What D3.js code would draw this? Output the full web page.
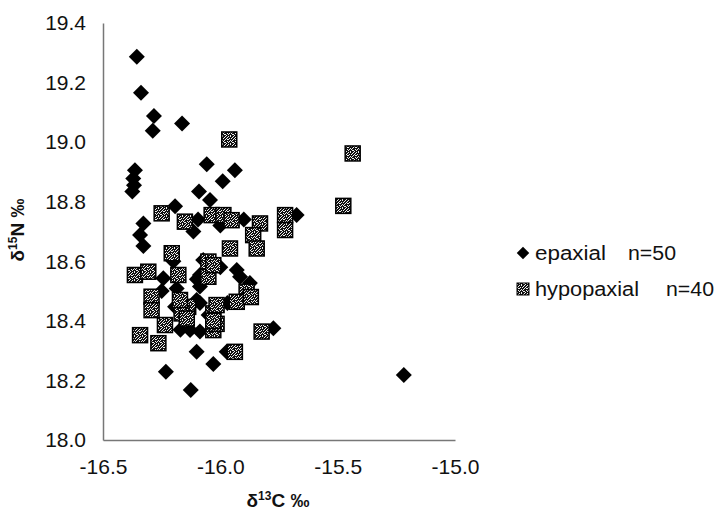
<!DOCTYPE html>
<html>
<head>
<meta charset="utf-8">
<script src="https://cdn.jsdelivr.net/npm/d3@7"></script>
<style>
  body { margin: 0; background: #fff; }
  text { font-family: "Liberation Sans", Arial, sans-serif; }
</style>
</head>
<body>
<div id="graph"></div>
<script>
let W = 718, H = 510;

// epaxial (diamonds) - d13C and d15N
let epaX = [-16.356, -16.338, -16.283, -16.288, -16.163, -16.058, -15.938, -15.99, -16.364, -16.371,
  -16.368, -16.375, -16.091, -16.044, -16.193, -16.328, -16.342, -16.328, -16.115, -15.675,
  -16.073, -15.93, -16.243, -16.186, -16.087, -16.087, -15.916, -16.193, -16.101, -16.129,
  -16.087, -16.101, -16.03, -16.232, -16.126, -15.973, -15.774, -15.218, -16.095, -16.1,
  -15.874, -16.087, -16.17, -16.0, -15.97, -16.2, -16.0, -15.9, -16.05, -16.25];
let epaY = [19.287, 19.166, 19.088, 19.038, 19.063, 18.926, 18.906, 18.869, 18.906, 18.878,
  18.855, 18.834, 18.834, 18.806, 18.785, 18.727, 18.688, 18.651, 18.70, 18.755,
  18.604, 18.571, 18.543, 18.509, 18.554, 18.515, 18.548, 18.447, 18.47, 18.369,
  18.364, 18.296, 18.255, 18.229, 18.168, 18.296, 18.375, 18.218, 18.74, 18.54,
  18.527, 18.46, 18.37, 18.58, 18.46, 18.6, 18.72, 18.74, 18.42, 18.5];

// hypopaxial (squares)
let hypX = [-15.962, -16.25, -16.151, -16.037, -15.987, -15.952, -15.831, -15.86, -15.724, -15.724,
  -15.436, -15.476, -16.207, -16.364, -16.307, -16.179, -16.051, -16.051, -15.845, -15.959,
  -16.03, -16.293, -16.293, -16.236, -16.342, -16.264, -16.137, -16.165, -16.143, -16.03,
  -16.03, -15.888, -15.93, -16.016, -16.016, -15.824, -15.938, -16.172, -16.03, -15.87];
let hypY = [19.009, 18.761, 18.733, 18.755, 18.755, 18.738, 18.727, 18.688, 18.755, 18.705,
  18.962, 18.786, 18.627, 18.554, 18.565, 18.554, 18.599, 18.548, 18.643, 18.643,
  18.587, 18.481, 18.436, 18.386, 18.352, 18.325, 18.447, 18.425, 18.408, 18.425,
  18.369, 18.498, 18.464, 18.453, 18.39, 18.364, 18.296, 18.47, 18.40, 18.48];

let xTicks = [-16.5, -16.0, -15.5, -15.0];
let yTicks = [18.0, 18.2, 18.4, 18.6, 18.8, 19.0, 19.2, 19.4];
let legendNames = ["epaxial", "hypopaxial"];
let legendN = ["n=50", "n=40"];

let svg = d3.select("#graph")
  .append("svg")
  .attr("width", W)
  .attr("height", H);

// speckled fill like the scanned square markers
let pat = svg.append("defs").append("pattern")
  .attr("id", "speck")
  .attr("patternUnits", "userSpaceOnUse")
  .attr("width", 8).attr("height", 8);
pat.append("rect").attr("width", 8).attr("height", 8).attr("fill", "#111");
[[1,0],[4,0],[6,0],[0,1],[3,1],[5,2],[7,2],[2,2],[1,3],[4,3],[6,4],[0,4],[3,5],[5,5],
 [7,5],[1,6],[4,6],[2,7],[6,7],[3,3],[0,6]].forEach(function(p) {
  pat.append("rect").attr("x", p[0]).attr("y", p[1]).attr("width", 1).attr("height", 1).attr("fill", "#eee");
});

let x = d3.scaleLinear().domain([-16.5, -15.0]).range([103, 455]);
let y = d3.scaleLinear().domain([18.0, 19.4]).range([440, 23]);

let xAxis = svg.append("g")
  .attr("transform", "translate(0,440)")
  .call(d3.axisBottom(x).tickValues(xTicks).tickSize(0).tickPadding(15)
    .tickFormat(d3.format(".1f")));
let yAxis = svg.append("g")
  .attr("transform", "translate(103,0)")
  .call(d3.axisLeft(y).tickValues(yTicks).tickSize(0).tickPadding(17)
    .tickFormat(d3.format(".1f")));

svg.selectAll(".domain").attr("stroke", "#777").attr("stroke-width", 1.5);
svg.selectAll(".tick text")
  .attr("font-size", 21)
  .attr("fill", "#111")
  .text(function(d) { return d3.format(".1f")(d).replace("\u2212", "-"); });
xAxis.selectAll(".tick text").attr("dy", "0.9em");

// axis titles
let xt = svg.append("text")
  .attr("x", 278).attr("y", 507)
  .attr("text-anchor", "middle")
  .attr("font-size", 19).attr("font-weight", "bold").attr("fill", "#111");
xt.append("tspan").text("\u03b4");
xt.append("tspan").attr("font-size", 12).attr("dy", -7).text("13");
xt.append("tspan").attr("dy", 7).text("C \u2030");

let yt = svg.append("text")
  .attr("transform", "translate(24,230) rotate(-90)")
  .attr("text-anchor", "middle")
  .attr("font-size", 19).attr("font-weight", "bold").attr("fill", "#111");
yt.append("tspan").text("\u03b4");
yt.append("tspan").attr("font-size", 12).attr("dy", -7).text("15");
yt.append("tspan").attr("dy", 7).text("N \u2030");

let diamond = d3.symbol().type(d3.symbolSquare).size(128);

svg.append("g").selectAll("path")
  .data(epaX)
  .enter()
  .append("path")
  .attr("d", diamond)
  .attr("transform", function(d, i) {
    return "translate(" + x(d) + "," + y(epaY[i]) + ") rotate(45)";
  })
  .attr("fill", "#000");

svg.append("g").selectAll("rect")
  .data(hypX)
  .enter()
  .append("rect")
  .attr("x", function(d) { return x(d) - 7.5; })
  .attr("y", function(d, i) { return y(hypY[i]) - 7.5; })
  .attr("width", 15)
  .attr("height", 15)
  .attr("fill", "url(#speck)")
  .attr("stroke", "#000")
  .attr("stroke-width", 1.5);

// legend
let leg = svg.append("g").attr("transform", "translate(523,253)");
leg.append("path")
  .attr("d", d3.symbol().type(d3.symbolSquare).size(78))
  .attr("transform", "rotate(45)")
  .attr("fill", "#000");
leg.append("rect")
  .attr("x", -6).attr("y", 30).attr("width", 12).attr("height", 12)
  .attr("fill", "url(#speck)").attr("stroke", "#000");

legendNames.forEach(function(name, i) {
  leg.append("text")
    .attr("x", 12).attr("y", 7 + i * 36)
    .attr("font-size", 20).attr("fill", "#111")
    .attr("textLength", i == 0 ? 71 : 104)
    .attr("lengthAdjust", "spacingAndGlyphs")
    .text(name);
  leg.append("text")
    .attr("x", i == 0 ? 105 : 143).attr("y", 7 + i * 36)
    .attr("font-size", 20).attr("fill", "#111")
    .attr("textLength", 48)
    .attr("lengthAdjust", "spacingAndGlyphs")
    .text(legendN[i]);
});
</script>
</body>
</html>
